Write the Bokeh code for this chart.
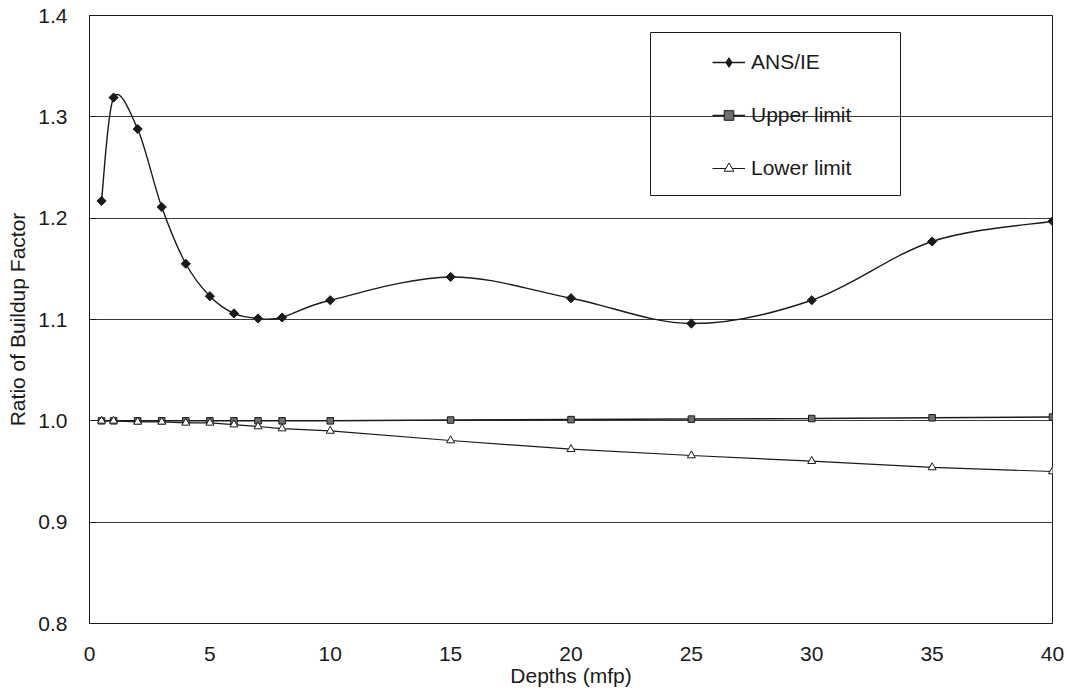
import numpy as np
from bokeh.plotting import figure
from bokeh.models import (Range1d, FixedTicker, NumeralTickFormatter, Legend,
                          LegendItem, BoxAnnotation, ColumnDataSource)
from bokeh.embed import file_html
from bokeh.resources import INLINE

# ---- data ----
depths = [0.5, 1, 2, 3, 4, 5, 6, 7, 8, 10, 15, 20, 25, 30, 35, 40]
ans_ie = [1.217, 1.319, 1.288, 1.211, 1.155, 1.123, 1.106, 1.101, 1.102,
          1.119, 1.142, 1.121, 1.096, 1.119, 1.177, 1.197]
upper_limit = [1.000, 1.000, 1.000, 1.000, 1.000, 1.000, 1.000, 1.000, 1.000,
               1.000, 1.0008, 1.0012, 1.0017, 1.0023, 1.003, 1.0037]
lower_limit = [1.000, 1.000, 0.999, 0.999, 0.998, 0.998, 0.9963, 0.9944, 0.9924,
               0.990, 0.9806, 0.972, 0.9658, 0.9602, 0.954, 0.950]
x_ticks = [0, 5, 10, 15, 20, 25, 30, 35, 40]
y_ticks = [0.8, 0.9, 1.0, 1.1, 1.2, 1.3, 1.4]
series_labels = ["ANS/IE", "Upper limit", "Lower limit"]

FONT = "Liberation Sans"
INK = "#1a1a1a"

p = figure(width=1067, height=695, output_backend="svg", toolbar_location=None,
           x_range=Range1d(0, 40), y_range=Range1d(0.8, 1.4),
           min_border_left=89, min_border_right=15, min_border_top=15,
           min_border_bottom=72)
p.background_fill_color = "white"
p.border_fill_color = "white"
p.outline_line_color = INK
p.outline_line_width = 1

# grid
p.xgrid.grid_line_color = None
p.ygrid.grid_line_color = "#3a3a3a"
p.ygrid.grid_line_width = 1
p.ygrid.ticker = FixedTicker(ticks=y_ticks)

# axes
p.xaxis.ticker = FixedTicker(ticks=x_ticks)
p.yaxis.ticker = FixedTicker(ticks=y_ticks)
p.yaxis.formatter = NumeralTickFormatter(format="0.0")
p.xaxis.axis_label = "Depths (mfp)"
p.yaxis.axis_label = "Ratio of Buildup Factor"
for ax in (p.xaxis, p.yaxis):
    ax.axis_line_color = INK
    ax.major_label_text_font = FONT
    ax.major_label_text_font_size = "21px"
    ax.major_label_text_color = INK
    ax.axis_label_text_font = FONT
    ax.axis_label_text_font_size = "21px"
    ax.axis_label_text_font_style = "normal"
    ax.axis_label_text_color = INK
    ax.minor_tick_line_color = None
p.xaxis.major_tick_line_color = None
p.xaxis.major_label_standoff = 17
p.xaxis.axis_label_standoff = 0
p.yaxis.major_tick_line_color = INK
p.yaxis.major_tick_in = 7
p.yaxis.major_tick_out = 0
p.yaxis.major_label_standoff = 22
p.yaxis.axis_label_standoff = 6

# ---- ANS/IE smooth curve (Catmull-Rom -> cubic Bezier through data points) ----
xa = np.array(depths, dtype=float)
ya = np.array(ans_ie, dtype=float)
n = len(xa)
prev_i = np.clip(np.arange(n - 1) - 1, 0, n - 1)
next_i = np.clip(np.arange(n - 1) + 2, 0, n - 1)
i0 = np.arange(n - 1)
i1 = i0 + 1
bez = ColumnDataSource(dict(
    x0=xa[i0], y0=ya[i0], x1=xa[i1], y1=ya[i1],
    cx0=xa[i0] + (xa[i1] - xa[prev_i]) / 6.0,
    cy0=ya[i0] + (ya[i1] - ya[prev_i]) / 6.0,
    cx1=xa[i1] - (xa[next_i] - xa[i0]) / 6.0,
    cy1=ya[i1] - (ya[next_i] - ya[i0]) / 6.0,
))
p.bezier(x0="x0", y0="y0", x1="x1", y1="y1", cx0="cx0", cy0="cy0",
         cx1="cx1", cy1="cy1", source=bez, line_color=INK, line_width=1.4)
ans_pts = p.scatter(depths, ans_ie, marker="square", angle=np.pi / 4, size=6.5,
                    fill_color=INK, line_color=INK, line_width=1)
# legend-only glyphs (no visible data)
ans_leg_line = p.line(x=[np.nan, np.nan], y=[np.nan, np.nan],
                      line_color=INK, line_width=1.4)
ans_leg_pt = p.scatter(x=[np.nan], y=[np.nan], marker="diamond", size=9,
                       fill_color=INK, line_color=INK, line_width=1)

# ---- Upper limit ----
up_line = p.line(depths, upper_limit, line_color=INK, line_width=1.5)
up_pts = p.scatter(depths, upper_limit, marker="square", size=6.5,
                   fill_color="#6f6f6f", line_color=INK, line_width=1)

# ---- Lower limit ----
lo_line = p.line(depths, lower_limit, line_color=INK, line_width=1.2)
lo_pts = p.scatter(depths, lower_limit, marker="triangle", size=8,
                   fill_color="white", line_color=INK, line_width=1)

# ---- legend ----
legend = Legend(items=[
    LegendItem(label=series_labels[0], renderers=[ans_leg_line, ans_leg_pt]),
    LegendItem(label=series_labels[1], renderers=[up_line, up_pts]),
    LegendItem(label=series_labels[2], renderers=[lo_line, lo_pts]),
], location=(623, 443), padding=0, spacing=29, glyph_width=33,
    glyph_height=24, label_height=24, label_standoff=6,
    label_text_font=FONT, label_text_font_size="21px", label_text_color=INK,
    border_line_alpha=0, background_fill_alpha=0)
p.add_layout(legend)

box = BoxAnnotation(left=650, right=900, top=32, bottom=195,
                    left_units="canvas", right_units="canvas",
                    top_units="canvas", bottom_units="canvas",
                    fill_alpha=0, line_color=INK, line_width=1, line_alpha=1)
p.add_layout(box)

open("out.html", "w").write(file_html(p, INLINE))
